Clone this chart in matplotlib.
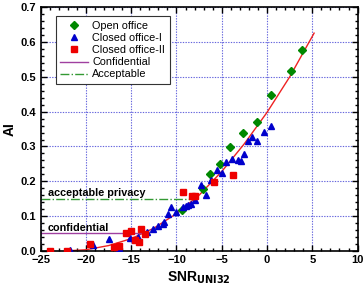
import matplotlib
matplotlib.use('Agg')
import matplotlib.pyplot as plt
from matplotlib.ticker import MultipleLocator

plt.rcParams['font.family'] = ['Liberation Sans', 'DejaVu Sans']

# Open office
open_x = [-9.4, -7.1, -6.3, -5.15, -4.1, -2.7, -1.1, 0.4, 2.65, 3.9]
open_y = [0.117, 0.177, 0.22, 0.249, 0.298, 0.338, 0.369, 0.449, 0.518, 0.578]

# Closed office-I
c1_x = [-21.8, -19.2, -17.4, -16.4, -15.1, -14.2, -13.3, -12.6, -12.0, -11.5, -11.4,
        -10.9, -10.6, -10.0, -9.3, -9.0, -8.7, -8.35, -7.9, -7.25, -6.7, -6.15, -5.55,
        -4.95, -4.5, -3.85, -3.25, -2.85, -2.55, -2.1, -1.7, -1.1, -0.3, 0.45]
c1_y = [0.001, 0.017, 0.033, 0.008, 0.038, 0.039, 0.055, 0.064, 0.071, 0.077, 0.083,
        0.105, 0.127, 0.111, 0.127, 0.129, 0.132, 0.134, 0.146, 0.189, 0.160, 0.203, 0.232,
        0.223, 0.255, 0.265, 0.261, 0.257, 0.277, 0.315, 0.328, 0.315, 0.342, 0.359]

# Closed office-II
c2_x = [-24.0, -22.1, -19.5, -16.9, -16.3, -15.6, -15.0, -14.6, -14.1, -13.9, -13.5,
        -9.3, -8.3, -8.0, -5.85, -3.8]
c2_y = [0.0, 0.0, 0.019, 0.012, 0.014, 0.050, 0.057, 0.031, 0.025, 0.064, 0.048,
        0.168, 0.157, 0.158, 0.197, 0.217]

# fitted curve
fit_x = [-22.0, -20.0, -17.5, -15.0, -12.5, -10.0, -7.5, -5.0, -2.5, 0.0, 2.5, 5.2]
fit_y = [0.0, 0.003, 0.015, 0.035, 0.065, 0.107, 0.160, 0.228, 0.308, 0.398, 0.500, 0.626]

conf_x = [-25, -13.7]
conf_y = [0.05, 0.05]
acc_x = [-25, -8.2]
acc_y = [0.15, 0.15]

fig = plt.figure(figsize=(3.63, 2.85), dpi=100)
ax = fig.add_axes([0.112, 0.12, 0.873, 0.854])

ax.grid(True, color='#6666dd', linestyle=(0, (1.2, 1.2)), linewidth=0.8)
ax.set_axisbelow(True)

ax.plot(fit_x, fit_y, color='#ee2222', linewidth=1.0, zorder=2)
ax.plot(open_x, open_y, 'D', color='#008800', markersize=4.4, linestyle='none',
        label='Open office', zorder=3)
ax.plot(c1_x, c1_y, '^', color='#0000cc', markersize=5.0, linestyle='none',
        label='Closed office-I', zorder=3)
ax.plot(c2_x, c2_y, 's', color='#ee0000', markersize=4.4, linestyle='none',
        label='Closed office-II', zorder=3)
ax.plot(conf_x, conf_y, '-', color='#a040a0', linewidth=1.0, label='Confidential', zorder=2)
ax.plot(acc_x, acc_y, '-.', color='#339933', linewidth=1.0, label='Acceptable', zorder=2)

ax.text(-24.2, 0.158, 'acceptable privacy', fontsize=7.8, fontweight='bold')
ax.text(-24.2, 0.058, 'confidential', fontsize=7.8, fontweight='bold')

ax.set_xlim(-25, 10)
ax.set_ylim(0, 0.7)
ax.xaxis.set_major_locator(MultipleLocator(5))
ax.xaxis.set_minor_locator(MultipleLocator(1))
ax.yaxis.set_major_locator(MultipleLocator(0.1))
ax.yaxis.set_minor_locator(MultipleLocator(0.02))
ax.tick_params(which='both', direction='in', top=True, right=True, width=1.0)
ax.tick_params(which='major', length=4, labelsize=8, pad=3)
ax.tick_params(which='minor', length=2)
for lab in ax.get_xticklabels() + ax.get_yticklabels():
    lab.set_fontweight('bold')
for sp in ax.spines.values():
    sp.set_linewidth(1.2)

ax.set_ylabel('AI', fontsize=10, fontweight='bold', labelpad=3)
ax.set_xlabel(r'SNR$_{\mathbf{UNI32}}$', fontsize=10, fontweight='bold', labelpad=3)

leg = ax.legend(loc='upper left', fontsize=7.8, frameon=True, fancybox=False,
                edgecolor='#333333', framealpha=1.0, borderpad=0.4,
                labelspacing=0.2, handlelength=2.6, handletextpad=0.4,
                bbox_to_anchor=(0.03, 0.985))
leg.get_frame().set_linewidth(0.8)

fig.savefig('out.png', dpi=100)
